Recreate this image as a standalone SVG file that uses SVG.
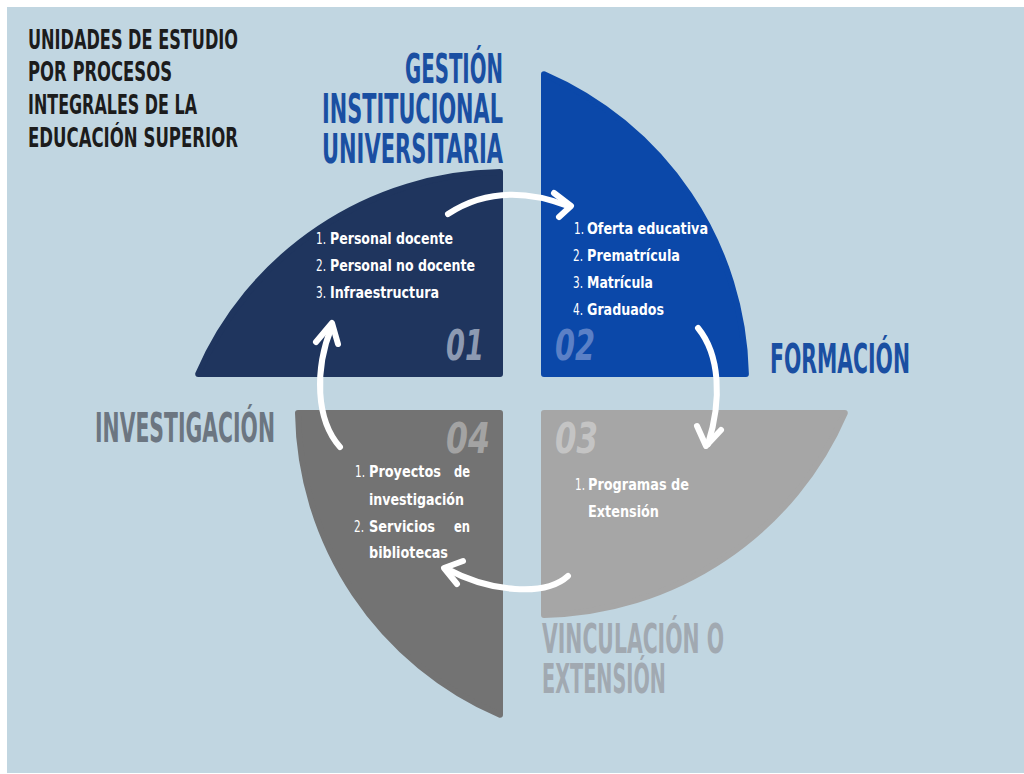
<svg xmlns="http://www.w3.org/2000/svg" width="1024" height="774" viewBox="0 0 1024 774">
<style>
.h{font-family:"Liberation Sans Narrow","DejaVu Sans Condensed","Liberation Sans",sans-serif;font-weight:bold;}
.t{font-size:27px;fill:#1c1c1c;}
.big{font-size:40px;}
.blue{fill:#1a4fa2;}
.inv{fill:#6c7681;}
.vin{fill:#a1a9b1;}
.it{font-family:"Liberation Sans Narrow","DejaVu Sans Condensed","Liberation Sans",sans-serif;font-size:16px;fill:#ffffff;}
.n{font-weight:normal;}
.b{font-weight:bold;}
.num{font-family:"Liberation Sans Narrow","DejaVu Sans Condensed","Liberation Sans",sans-serif;font-size:42px;font-weight:bold;font-style:italic;}
.q{stroke-width:6;stroke-linejoin:round;}
.arr{fill:none;stroke:#ffffff;stroke-width:6;stroke-linecap:round;stroke-linejoin:round;}
</style>
<rect x="0" y="0" width="1024" height="774" fill="#ffffff"/>
<rect x="7" y="7" width="1017" height="766" fill="#c1d6e1"/>

<g id="title">
<text class="h t" x="28" y="49" textLength="210" lengthAdjust="spacingAndGlyphs">UNIDADES DE ESTUDIO</text>
<text class="h t" x="28" y="81" textLength="144" lengthAdjust="spacingAndGlyphs">POR PROCESOS</text>
<text class="h t" x="28" y="114" textLength="169" lengthAdjust="spacingAndGlyphs">INTEGRALES DE LA</text>
<text class="h t" x="28" y="147" textLength="210" lengthAdjust="spacingAndGlyphs">EDUCACIÓN SUPERIOR</text>
</g>

<g id="node-01">
<path class="q" d="M500,374 L198.2,374 A334,334 0 0 1 500,172 Z" fill="#1f355e" stroke="#1f355e"/>
<text class="h big blue" x="405" y="83" textLength="98" lengthAdjust="spacingAndGlyphs">GESTIÓN</text>
<text class="h big blue" x="322" y="123" textLength="181" lengthAdjust="spacingAndGlyphs">INSTITUCIONAL</text>
<text class="h big blue" x="322" y="163" textLength="181" lengthAdjust="spacingAndGlyphs">UNIVERSITARIA</text>
<text class="it n" x="316" y="244" textLength="10" lengthAdjust="spacingAndGlyphs">1.</text><text class="it b" x="330" y="244" textLength="123" lengthAdjust="spacingAndGlyphs">Personal docente</text>
<text class="it n" x="316" y="271" textLength="10" lengthAdjust="spacingAndGlyphs">2.</text><text class="it b" x="330" y="271" textLength="145" lengthAdjust="spacingAndGlyphs">Personal no docente</text>
<text class="it n" x="316" y="298" textLength="10" lengthAdjust="spacingAndGlyphs">3.</text><text class="it b" x="330" y="298" textLength="109" lengthAdjust="spacingAndGlyphs">Infraestructura</text>
<text class="num" x="446" y="360" fill="#8d9ab2" textLength="38" lengthAdjust="spacingAndGlyphs">01</text>
</g>

<g id="node-02">
<path class="q" d="M544,374 L544,74.2 A334,334 0 0 1 745.9,374 Z" fill="#0b48a9" stroke="#0b48a9"/>
<text class="h big blue" x="770" y="373" textLength="140" lengthAdjust="spacingAndGlyphs">FORMACIÓN</text>
<text class="it n" x="574" y="234" textLength="10" lengthAdjust="spacingAndGlyphs">1.</text><text class="it b" x="587" y="234" textLength="121" lengthAdjust="spacingAndGlyphs">Oferta educativa</text>
<text class="it n" x="573" y="261" textLength="10" lengthAdjust="spacingAndGlyphs">2.</text><text class="it b" x="587" y="261" textLength="93" lengthAdjust="spacingAndGlyphs">Prematrícula</text>
<text class="it n" x="573" y="288" textLength="10" lengthAdjust="spacingAndGlyphs">3.</text><text class="it b" x="587" y="288" textLength="66" lengthAdjust="spacingAndGlyphs">Matrícula</text>
<text class="it n" x="573" y="315" textLength="10" lengthAdjust="spacingAndGlyphs">4.</text><text class="it b" x="587" y="315" textLength="77" lengthAdjust="spacingAndGlyphs">Graduados</text>
<text class="num" x="555" y="360" fill="#5b80c6" textLength="40" lengthAdjust="spacingAndGlyphs">02</text>
</g>

<g id="node-03">
<path class="q" d="M544,413 L844.8,413 A334,334 0 0 1 544,614.9 Z" fill="#a6a6a6" stroke="#a6a6a6"/>
<text class="h big vin" x="542" y="653" textLength="182" lengthAdjust="spacingAndGlyphs">VINCULACIÓN O</text>
<text class="h big vin" x="542" y="693" textLength="124" lengthAdjust="spacingAndGlyphs">EXTENSIÓN</text>
<text class="it n" x="575" y="490" textLength="10" lengthAdjust="spacingAndGlyphs">1.</text><text class="it b" x="588" y="490" textLength="101" lengthAdjust="spacingAndGlyphs">Programas de</text>
<text class="it b" x="588" y="517" textLength="71" lengthAdjust="spacingAndGlyphs">Extensión</text>
<text class="num" x="555" y="453" fill="#c4c4c4" textLength="43" lengthAdjust="spacingAndGlyphs">03</text>
</g>

<g id="node-04">
<path class="q" d="M500,413 L500,714.8 A334,334 0 0 1 298,413 Z" fill="#737373" stroke="#737373"/>
<text class="h big inv" x="95" y="442" textLength="180" lengthAdjust="spacingAndGlyphs">INVESTIGACIÓN</text>
<text class="it n" x="355" y="477" textLength="10" lengthAdjust="spacingAndGlyphs">1.</text><text class="it b" x="369" y="477" textLength="72" lengthAdjust="spacingAndGlyphs">Proyectos</text><text class="it b" x="454" y="477" textLength="16" lengthAdjust="spacingAndGlyphs">de</text>
<text class="it b" x="369" y="505" textLength="95" lengthAdjust="spacingAndGlyphs">investigación</text>
<text class="it n" x="354" y="532" textLength="10" lengthAdjust="spacingAndGlyphs">2.</text><text class="it b" x="369" y="532" textLength="66" lengthAdjust="spacingAndGlyphs">Servicios</text><text class="it b" x="454" y="532" textLength="16" lengthAdjust="spacingAndGlyphs">en</text>
<text class="it b" x="369" y="558" textLength="79" lengthAdjust="spacingAndGlyphs">bibliotecas</text>
<text class="num" x="446" y="453" fill="#a3a3a3" textLength="44" lengthAdjust="spacingAndGlyphs">04</text>
</g>

<g id="connectors">
<path class="arr" d="M448,214 Q500,180 568,206"/>
<polyline class="arr" points="554,193 571,206 559,217"/>
<path class="arr" d="M698,328 C720,355 722,400 708,444"/>
<polyline class="arr" points="697,426 706,446 721,430"/>
<path class="arr" d="M568,576 C545,597 490,592 447,569"/>
<polyline class="arr" points="463,561 444,568 457,584"/>
<path class="arr" d="M340,447 C316,420 314,370 332,326"/>
<polyline class="arr" points="316,342 332,323 338,344"/>
</g>
</svg>
